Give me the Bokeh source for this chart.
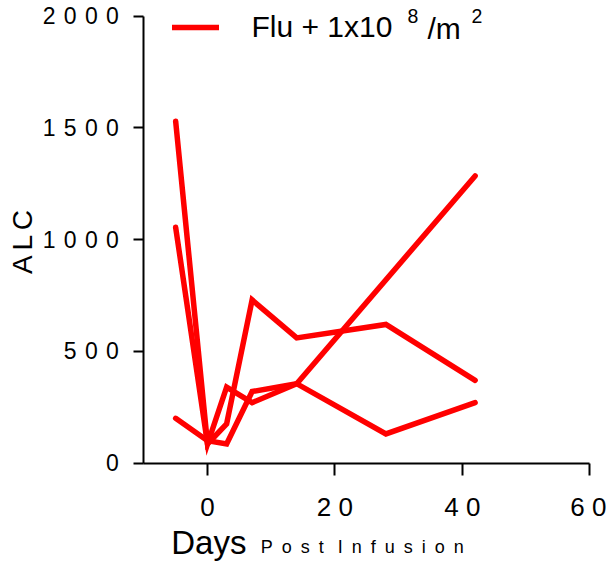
import math

from bokeh.plotting import figure
from bokeh.models import Range1d, Legend, LegendItem, Label, FixedTicker
from bokeh.embed import file_html
from bokeh.resources import INLINE

# Absolute lymphocyte count per patient, by day relative to infusion
days_a = [-5, 0, 3, 7, 14, 28, 42]
alc_a = [1530, 85, 175, 730, 560, 620, 370]

days_b = [-5, 0, 3, 7, 14, 28, 42]
alc_b = [1055, 85, 340, 270, 355, 130, 270]

days_c = [-5, 0, 3, 7, 14, 42]
alc_c = [200, 100, 85, 320, 355, 1285]

x_ticks = [0, 20, 40, 60]
y_ticks = [0, 500, 1000, 1500, 2000]
x_limits = (-10, 60)
y_limits = (0, 2000)

FONT = "Liberation Sans"
RED = "#ff0000"

# One frame covers the whole canvas; both axes are pinned inside it and
# limited to their data extents, so every title and label is drawn in it.
W, H = 606, 564
X_LO_PX, X_HI_PX = 143.3, 589.3       # canvas columns of day -10 and day 60
Y_LO_PX, Y_HI_PX = 462.5, 15.7        # canvas rows of ALC 0 and ALC 2000
sx = (X_HI_PX - X_LO_PX) / (x_limits[1] - x_limits[0])
sy = (Y_LO_PX - Y_HI_PX) / (y_limits[1] - y_limits[0])
x_range = Range1d(x_limits[0] - X_LO_PX / sx, x_limits[1] + (W - X_HI_PX) / sx)
y_range = Range1d(y_limits[0] - (H - Y_LO_PX) / sy, y_limits[1] + Y_HI_PX / sy)

p = figure(
    frame_width=W, frame_height=H,
    min_border_left=0, min_border_right=0,
    min_border_top=0, min_border_bottom=0,
    x_range=x_range, y_range=y_range,
    output_backend="svg", toolbar_location=None,
    background_fill_color="white", border_fill_color="white",
)
p.outline_line_color = None
p.grid.visible = False

lines = []
for xs, ys in ((days_a, alc_a), (days_b, alc_b), (days_c, alc_c)):
    r = p.line(xs, ys, line_color=RED, line_width=5.5,
               line_cap="round", line_join="miter")
    lines.append(r)

# Axes: black, ticks pointing outward, spaced-out tick labels
for ax in (p.xaxis[0], p.yaxis[0]):
    ax.axis_line_color = "black"
    ax.axis_line_width = 2
    ax.major_tick_line_color = "black"
    ax.major_tick_line_width = 2
    ax.major_tick_in = 0
    ax.minor_tick_line_color = None
    ax.major_label_text_font = FONT
    ax.major_label_text_color = "black"

p.xaxis.fixed_location = y_limits[0]
p.xaxis.bounds = x_limits
p.xaxis.ticker = FixedTicker(ticks=x_ticks)
p.xaxis.major_label_overrides = {t: " ".join(str(t)) for t in x_ticks}
p.xaxis.major_tick_out = 12
p.xaxis.major_label_text_font_size = "26px"
p.xaxis.major_label_standoff = 17

p.yaxis.fixed_location = x_limits[0]
p.yaxis.bounds = y_limits
p.yaxis.ticker = FixedTicker(ticks=y_ticks)
p.yaxis.major_label_overrides = {t: " \u200a".join(str(t)) for t in y_ticks}
p.yaxis.major_tick_out = 10
p.yaxis.major_label_text_font_size = "23px"
p.yaxis.major_label_standoff = 15

text_style = dict(x_units="screen", y_units="screen", text_font=FONT,
                  text_color="black", text_baseline="middle")

# y-axis title
p.add_layout(Label(x=22, y=H - 241.5, text="A\u2006L\u2006C", angle=math.pi / 2,
                   text_align="center", text_font_size="28px", **text_style))

# x-axis title in two sizes
p.add_layout(Label(x=170.7, y=H - 541.5, text="Days",
                   text_font_size="33px", **text_style))
p.add_layout(Label(x=260.3, y=H - 546.8,
                   text="\u2002".join("Post") + "\u2002 " + "\u2002".join("Infusion"),
                   text_font_size="18px", **text_style))

# Legend entry, with the exponents set as raised smaller text
legend = Legend(
    items=[LegendItem(label="Flu + 1x10", renderers=[lines[0]])],
    location=(171.5, H - 44), padding=0, margin=0,
    glyph_width=47, glyph_height=16, label_height=31, label_standoff=33,
    label_text_font=FONT, label_text_font_size="30px", label_text_color="black",
    border_line_color=None, background_fill_alpha=0,
)
p.add_layout(legend)

p.add_layout(Label(x=407, y=H - 15.4, text="8", text_font_size="19.5px", **text_style))
p.add_layout(Label(x=427, y=H - 28.0, text="/m", text_font_size="30px", **text_style))
p.add_layout(Label(x=471, y=H - 15.4, text="2", text_font_size="19.5px", **text_style))

open("out.html", "w").write(file_html(p, INLINE))
